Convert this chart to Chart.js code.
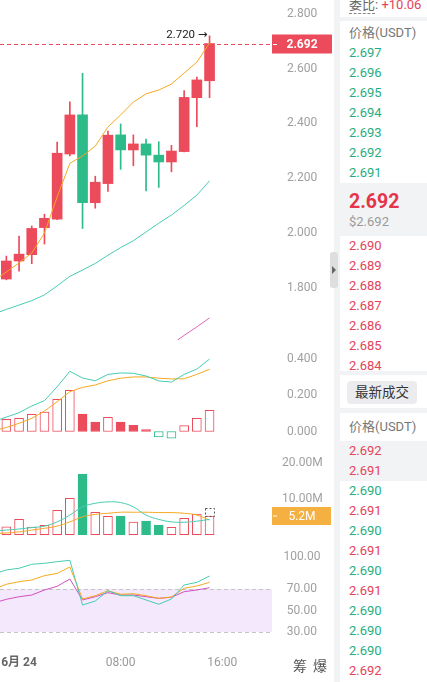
<!DOCTYPE html>
<html><head><meta charset="utf-8">
<script src="https://cdn.jsdelivr.net/npm/chart.js@4.4.1/dist/chart.umd.min.js"></script>
<style>
html,body{margin:0;padding:0;background:#fff;}
body{width:427px;height:682px;overflow:hidden;position:relative;font-family:Roboto,"Noto Sans CJK SC",sans-serif;}
.pane{position:absolute;left:0;width:335px;}
canvas{display:block;}
#strip{position:absolute;left:334px;top:0;width:6px;height:682px;background:#f2f3f5;}
#handle{position:absolute;left:330px;top:252px;width:8px;height:36px;background:#dedede;border-radius:3px;z-index:3;}
#handle:after{content:"";position:absolute;left:2px;top:14px;border-left:4px solid #666;border-top:4px solid transparent;border-bottom:4px solid transparent;}
#ob{position:absolute;left:340px;top:0;width:87px;height:682px;background:#fff;overflow:hidden;}
.r{position:absolute;left:9px;font-size:13px;line-height:16px;white-space:nowrap;}
.g{position:absolute;left:0;width:87px;background:#f2f3f5;}
.chip{position:absolute;top:656px;font-size:14px;line-height:18px;color:#555;font-family:"Noto Sans CJK SC",sans-serif;}
</style></head>
<body>
<div class="pane" style="top:0;height:340px"><canvas id="cP" width="335" height="340"></canvas></div>
<div class="pane" style="top:340px;height:107px"><canvas id="cM" width="335" height="107"></canvas></div>
<div class="pane" style="top:447px;height:93px"><canvas id="cV" width="335" height="93"></canvas></div>
<div class="pane" style="top:540px;height:142px"><canvas id="cR" width="335" height="142"></canvas></div>
<div id="strip"></div>
<div id="handle"></div>
<div id="ob"></div>
<div class="chip" style="left:293px">筹</div>
<div class="chip" style="left:313px">爆</div>
<script>
// ---------- data (hourly candles, first one is hidden left of the view) ----------
const times = ['22:00','23:00','00:00','01:00','02:00','03:00','04:00','05:00','06:00','07:00','08:00','09:00','10:00','11:00','12:00','13:00','14:00','15:00'];
const openP  = [1.800,1.831,1.897,1.920,2.019,2.050,2.288,2.431,2.110,2.180,2.358,2.303,2.325,2.284,2.259,2.297,2.494,2.556];
const highP  = [1.840,1.915,1.988,2.025,2.068,2.332,2.479,2.583,2.207,2.372,2.398,2.358,2.343,2.333,2.320,2.520,2.569,2.720];
const lowP   = [1.790,1.828,1.860,1.887,1.959,2.048,2.281,2.016,2.090,2.151,2.232,2.245,2.153,2.166,2.223,2.296,2.388,2.494];
const closeP = [1.831,1.897,1.922,2.016,2.053,2.291,2.431,2.110,2.185,2.357,2.303,2.325,2.284,2.259,2.299,2.495,2.559,2.692];
const ma7  = [1.824,1.857,1.890,1.926,1.999,2.131,2.254,2.281,2.317,2.387,2.431,2.478,2.508,2.522,2.544,2.584,2.624,2.694];
const ma25 = [1.703,1.720,1.736,1.752,1.773,1.806,1.841,1.864,1.888,1.918,1.946,1.971,2.003,2.035,2.065,2.100,2.138,2.190];
const ma99 = [null,null,null,null,null,null,null,null,null,null,null,null,null,null,1.592,1.625,1.656,1.689];
const macdHist = [0.060,0.067,0.072,0.094,0.107,0.176,0.226,0.096,0.052,0.078,0.052,0.034,0.010,-0.030,-0.037,0.032,0.072,0.116];
const dif  = [0.055,0.079,0.103,0.140,0.169,0.245,0.330,0.293,0.278,0.313,0.321,0.319,0.304,0.277,0.271,0.313,0.342,0.397];
const dea  = [0.005,0.022,0.045,0.072,0.112,0.163,0.218,0.242,0.255,0.278,0.292,0.299,0.299,0.292,0.288,0.289,0.313,0.341];
const volume = [1.5,2.24,4.3,2.16,2.6,6.8,10.2,17.0,6.3,5.15,5.2,3.55,3.84,2.7,2.07,4.6,5.8,5.2];
const volMa5  = [1.1,1.3,1.6,2.0,2.4,3.6,5.5,7.8,8.8,9.2,9.0,7.8,5.5,4.3,3.6,3.5,3.8,4.3];
const volMa10 = [0.3,0.5,0.8,1.3,1.8,2.4,3.6,5.0,5.7,6.0,6.3,6.3,6.3,6.2,6.2,6.0,5.5,4.1];
const volProjected = 7.4;
const rsi6  = [84,87.7,89.3,93.0,93.9,95.4,96.7,55.1,58.8,68.4,63.8,63.8,59.8,55.8,60.7,73.7,76.2,82.1];
const rsi12 = [70,74.4,76.8,78.4,82.4,84.5,90.5,60.7,63.8,68.4,65.1,65.6,63.8,61.3,62.6,70.7,72.8,76.2];
const rsi24 = [57,60.4,62.8,64.4,69.1,72.5,79.3,59.8,62.8,66.6,64.4,64.4,62.8,61.3,62.3,67.5,69.1,71.2];
const rsiBand = [30,70];
const priceTicks = [1.8,2.0,2.2,2.4,2.6,2.8];
const macdTicks = [0,0.2,0.4];
const volTicks = [10,20];
const rsiTicks = [30,50,70,100];
const timeTickIdx = [2,10,18];
const timeTickText = ['6月 24','08:00','16:00'];
// order book
const askPrices = ['2.697','2.696','2.695','2.694','2.693','2.692','2.691'];
const bidPrices = ['2.690','2.689','2.688','2.687','2.686','2.685','2.684'];
const lastPrice = '2.692';
const lastPriceUsd = '$2.692';
const ratioText = '+10.06';
const tradePrices = ['2.692','2.691','2.690','2.691','2.690','2.691','2.690','2.691','2.690','2.690','2.690','2.692'];
const tradeSides  = ['b','b','s','b','s','b','s','b','s','s','s','b'];

// ---------- styles ----------
const UP='#ec4b5b', DOWN='#2dbb8a', YEL='#f6a821', CYAN='#45cdb3', PINK='#e065b9', RPINK='#d24fc0';
const OB_UP='#e4435a', OB_DN='#1fae80';
Chart.defaults.font.family='Roboto, "Noto Sans CJK SC", sans-serif';
Chart.defaults.animation=false;
const N=times.length, idx=times.map((_,i)=>i);
const CW=335, AREA_R=272, PADR=0, XMIN=0.5, XMAX=0.5+272/12.7;
const pts=a=>a.map((v,i)=>({x:i,y:v}));

function xAxis(show){
  return {type:'linear',min:XMIN,max:XMAX,offset:false,display:show,
    grid:{display:false,drawTicks:false},border:{display:false},
    afterBuildTicks:a=>{a.ticks=timeTickIdx.map(v=>({value:v}));},
    afterFit:a=>{if(show)a.height=37;a.paddingLeft=0;a.paddingRight=0;},
    ticks:{autoSkip:false,maxRotation:0,minRotation:0,padding:11,
      callback:v=>timeTickText[timeTickIdx.indexOf(v)],
      color:c=>c.index===0?'#666':'#9a9a9a',
      font:c=>({size:12,weight:c.index===0?'bold':'normal'})}};
}
function yAxis(min,max,ticks,fmt,pad){
  return {type:'linear',position:'right',min,max,
    grid:{display:false,drawTicks:false},border:{display:false},
    afterBuildTicks:a=>{a.ticks=ticks.map(v=>({value:v}));},
    afterFit:a=>{a.width=CW-PADR-AREA_R;a.paddingTop=0;a.paddingBottom=0;},
    ticks:{autoSkip:false,crossAlign:'center',padding:pad,color:'#a0a0a0',font:{size:12},callback:fmt}};
}
function line(data,color,extra){
  return Object.assign({type:'line',data:pts(data),borderColor:color,borderWidth:1,pointRadius:0,tension:0,order:0,spanGaps:false},extra||{});
}
function baseOpts(x,y){
  return {responsive:false,animation:false,events:[],
    layout:{padding:{left:0,right:PADR,top:0,bottom:0}},
    plugins:{legend:{display:false},tooltip:{enabled:false}},
    scales:{x,y}};
}

// ---------- price ----------
const candleCol=idx.map(i=>closeP[i]>=openP[i]?UP:DOWN);
const pricePlugin={id:'pp',afterDatasetsDraw(ch){
  const {ctx,chartArea:a,scales:{x,y}}=ch;
  const last=N-1, yy=Math.round(y.getPixelForValue(closeP[last]))+0.5;
  ctx.save();
  ctx.strokeStyle=UP;ctx.lineWidth=1;ctx.setLineDash([4,3]);
  ctx.beginPath();ctx.moveTo(a.left,yy);ctx.lineTo(a.right,yy);ctx.stroke();
  ctx.setLineDash([]);
  ctx.fillStyle=UP;ctx.fillRect(a.right,yy-10,60,19);
  ctx.fillStyle='#fff';ctx.fillRect(a.right+1,yy-0.5,4,1);
  ctx.font='bold 12px Roboto';ctx.textAlign='center';ctx.textBaseline='middle';
  ctx.fillText(closeP[last].toFixed(3),a.right+30,yy+0.5);
  let mi=0;highP.forEach((v,i)=>{if(v>highP[mi])mi=i;});
  const hx=x.getPixelForValue(mi), hy=y.getPixelForValue(highP[mi]);
  ctx.fillStyle='#222';ctx.font='11.5px Roboto, "DejaVu Sans"';ctx.textAlign='right';
  ctx.fillText(highP[mi].toFixed(3)+' →',hx-2,hy-1);
  ctx.restore();
}};
new Chart(document.getElementById('cP'),{type:'bar',
  data:{datasets:[
    line(ma7,YEL),line(ma25,CYAN),line(ma99,PINK),
    {type:'bar',data:idx.map(i=>({x:i,y:[openP[i],closeP[i]]})),backgroundColor:candleCol,barThickness:10,grouped:false,order:1},
    {type:'bar',data:idx.map(i=>({x:i,y:[lowP[i],highP[i]]})),backgroundColor:candleCol,barThickness:1,grouped:false,order:2}
  ]},
  options:baseOpts(xAxis(false),yAxis(1.6081,2.8512,priceTicks,v=>v.toFixed(3),15)),
  plugins:[pricePlugin]});

// ---------- MACD ----------
const macdFill=macdHist.map((v,i)=>v<0?'#fff':(i>0&&v<macdHist[i-1]?UP:'#fff'));
const macdBorder=macdHist.map(v=>v<0?DOWN:UP);
new Chart(document.getElementById('cM'),{type:'bar',
  data:{datasets:[
    line(dif,CYAN),line(dea,YEL),
    {type:'bar',data:pts(macdHist),backgroundColor:macdFill,borderColor:macdBorder,borderWidth:1,borderSkipped:false,barThickness:9,grouped:false,order:1}
  ]},
  options:baseOpts(xAxis(false),yAxis(-0.0849,0.5014,macdTicks,v=>v.toFixed(3),15))});

// ---------- volume ----------
const volFill=idx.map(i=>closeP[i]>=openP[i]?'#fff':DOWN);
const volBorder=idx.map(i=>closeP[i]>=openP[i]?UP:DOWN);
const volPlugin={id:'vp',afterDatasetsDraw(ch){
  const {ctx,chartArea:a,scales:{x,y}}=ch;
  const last=N-1, cx=x.getPixelForValue(last);
  const y0=y.getPixelForValue(volume[last]), y1=y.getPixelForValue(volProjected);
  ctx.save();
  ctx.strokeStyle='#555';ctx.lineWidth=1;ctx.setLineDash([2,2]);
  ctx.strokeRect(Math.round(cx-4.5)+0.5,Math.round(y1)+0.5,9,Math.round(y0-y1));
  ctx.setLineDash([]);
  const yy=Math.round(y0);
  ctx.fillStyle='#f5b042';ctx.fillRect(a.right,yy-9,59,18);
  ctx.fillStyle='#fff';ctx.fillRect(a.right+1,yy-0.5,4,1);
  ctx.font='12px Roboto';ctx.textAlign='center';ctx.textBaseline='middle';
  ctx.fillText(volume[last].toFixed(1)+'M',a.right+30,yy+0.5);
  ctx.restore();
}};
new Chart(document.getElementById('cV'),{type:'bar',
  data:{datasets:[
    line(volMa5,CYAN,{tension:0.4}),line(volMa10,YEL,{tension:0.4}),
    {type:'bar',data:pts(volume),backgroundColor:volFill,borderColor:volBorder,borderWidth:1,borderSkipped:false,barThickness:9,grouped:false,order:1}
  ]},
  options:baseOpts(xAxis(false),yAxis(-1.48,24.57,volTicks,v=>v.toFixed(2)+'M',10)),
  plugins:[volPlugin]});

// ---------- RSI ----------
const rsiPlugin={id:'rp',beforeDatasetsDraw(ch){
  const {ctx,chartArea:a,scales:{y}}=ch;
  const yt=Math.round(y.getPixelForValue(rsiBand[1])), yb=Math.round(y.getPixelForValue(rsiBand[0]));
  ctx.save();
  ctx.fillStyle='#f4e8fd';ctx.fillRect(a.left,yt,a.right-a.left,yb-yt);
  ctx.strokeStyle='#c4c4c4';ctx.lineWidth=1;ctx.setLineDash([4,3]);
  [yt,yb].forEach(v=>{ctx.beginPath();ctx.moveTo(a.left,v+0.5);ctx.lineTo(a.right,v+0.5);ctx.stroke();});
  ctx.restore();
}};
new Chart(document.getElementById('cR'),{type:'line',
  data:{datasets:[line(rsi6,CYAN),line(rsi12,YEL),line(rsi24,RPINK)]},
  options:baseOpts(xAxis(true),yAxis(17.91,115.58,rsiTicks,v=>v.toFixed(2),11.5)),
  plugins:[rsiPlugin]});

// ---------- order book ----------
const ob=document.getElementById('ob');
function el(cls,css,html){const d=document.createElement('div');d.className=cls;d.style.cssText=css;if(html!==undefined)d.innerHTML=html;ob.appendChild(d);return d;}
el('g','top:17px;height:4px');
el('g','top:183px;height:53px');
el('g','top:371px;height:4px');
el('g','top:408px;height:5px');
el('g','top:441px;height:40px');
el('r','top:-3px;color:#666','<span style="border-bottom:1px dashed #888;padding-bottom:1px">委比</span>: <span style="color:'+OB_UP+'">'+ratioText+'</span>');
el('r','top:25px;color:#777','价格(USDT)');
askPrices.forEach((p,i)=>el('r','top:'+(45+20*i)+'px;color:'+OB_DN,p));
el('r','top:190px;font-size:19.5px;line-height:24px;font-weight:bold;color:#e5354b',lastPrice);
el('r','top:214px;color:#9a9a9a',lastPriceUsd);
bidPrices.forEach((p,i)=>el('r','top:'+(238+20*i)+'px;color:'+OB_UP,p));
el('r','left:7px;top:381px;width:70px;height:23px;line-height:23px;text-align:center;background:#ececee;border-radius:4px;color:#333;font-size:13.5px','最新成交');
el('r','top:419px;color:#777','价格(USDT)');
tradePrices.forEach((p,i)=>el('r','top:'+(443+20*i)+'px;color:'+(tradeSides[i]==='b'?OB_UP:OB_DN),p));
</script>
</body></html>
